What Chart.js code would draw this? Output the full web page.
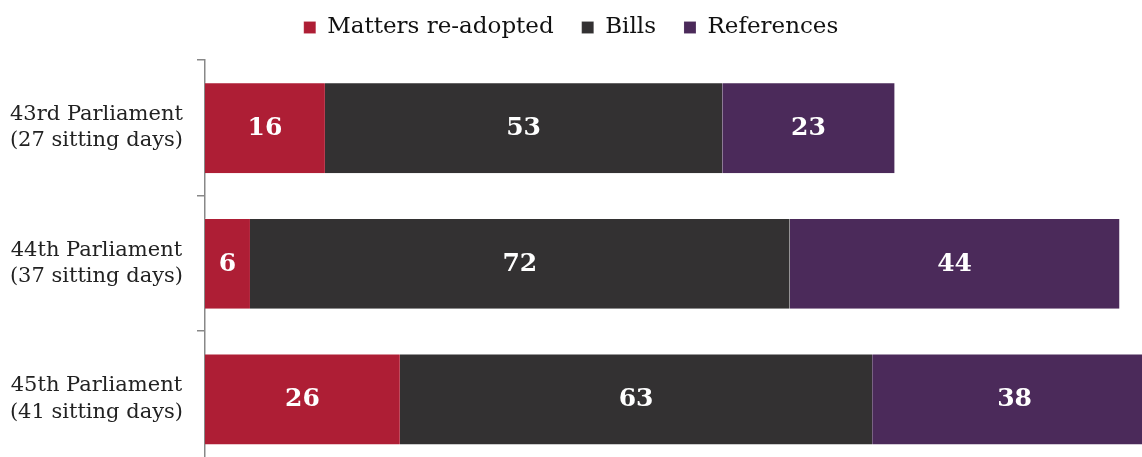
<!DOCTYPE html>
<html>
<head>
<meta charset="utf-8">
<script src="https://cdn.jsdelivr.net/npm/chart.js@4/dist/chart.umd.min.js"></script>
<style>
    html, body { margin: 0; padding: 0; background: #fff; overflow: hidden; }
    #wrap { width: 1142px; height: 507px; }
</style>
</head>
<body>
<div id="wrap"><canvas id="sittingChart"></canvas></div>
<script>
const parliaments = [
    ['43rd Parliament', '(27 sitting days)'],
    ['44th Parliament', '(37 sitting days)'],
    ['45th Parliament', '(41 sitting days)']
];
const mattersReadopted = [16, 6, 26];
const bills = [53, 72, 63];
const references = [23, 44, 38];

const serif = '"DejaVu Serif", Georgia, serif';

// draws the value in the middle of each bar segment
const barValueLabels = {
    id: 'barValueLabels',
    afterDatasetsDraw(chart) {
        const ctx = chart.ctx;
        ctx.save();
        ctx.font = 'bold 25px ' + serif;
        ctx.fillStyle = '#ffffff';
        ctx.textAlign = 'center';
        ctx.textBaseline = 'middle';
        chart.data.datasets.forEach((ds, i) => {
            const meta = chart.getDatasetMeta(i);
            meta.data.forEach((bar, j) => {
                const p = bar.getProps(['x', 'y', 'base'], true);
                ctx.fillText(ds.data[j], (p.x + p.base) / 2, p.y + 1);
            });
        });
        ctx.restore();
    }
};

// tweak room under the legend
const legendGap = {
    id: 'legendGap',
    beforeInit(chart) {
        const fit = chart.legend.fit;
        chart.legend.fit = function() {
            fit.bind(chart.legend)();
            this.height += 11;
        };
    }
};

new Chart(document.getElementById('sittingChart').getContext('2d'), {
    type: 'bar',
    data: {
        labels: parliaments,
        datasets: [
            { label: 'Matters re-adopted', data: mattersReadopted, backgroundColor: '#ae1e35' },
            { label: 'Bills', data: bills, backgroundColor: '#333132' },
            { label: 'References', data: references, backgroundColor: '#4b2a5a' }
        ]
    },
    options: {
        indexAxis: 'y',
        responsive: true,
        maintainAspectRatio: false,
        animation: false,
        layout: { padding: { top: -12, right: 0, bottom: 0, left: 0 } },
        datasets: {
            bar: {
                barPercentage: 0.67,
                categoryPercentage: 1,
                borderWidth: { left: 1, right: 0, top: 1, bottom: 0 },
                borderColor: 'rgba(255,255,255,0.25)'
            }
        },
        plugins: {
            legend: {
                position: 'top',
                labels: {
                    boxWidth: 12,
                    boxHeight: 12,
                    padding: 28,
                    color: '#111',
                    font: { family: serif, size: 23 }
                }
            },
            tooltip: { enabled: false }
        },
        scales: {
            x: {
                stacked: true,
                display: false,
                min: 0,
                max: 125
            },
            y: {
                stacked: true,
                afterFit: (scale) => { scale.width = 205; },
                border: { display: true, color: '#888', width: 1.5 },
                grid: {
                    display: true,
                    drawOnChartArea: false,
                    drawTicks: true,
                    tickLength: 8,
                    color: '#888',
                    lineWidth: 1.5
                },
                ticks: {
                    crossAlign: 'center',
                    padding: 14,
                    color: '#222',
                    font: { family: serif, size: 21, lineHeight: 1.25 }
                }
            }
        }
    },
    plugins: [barValueLabels, legendGap]
});
</script>
</body>
</html>
